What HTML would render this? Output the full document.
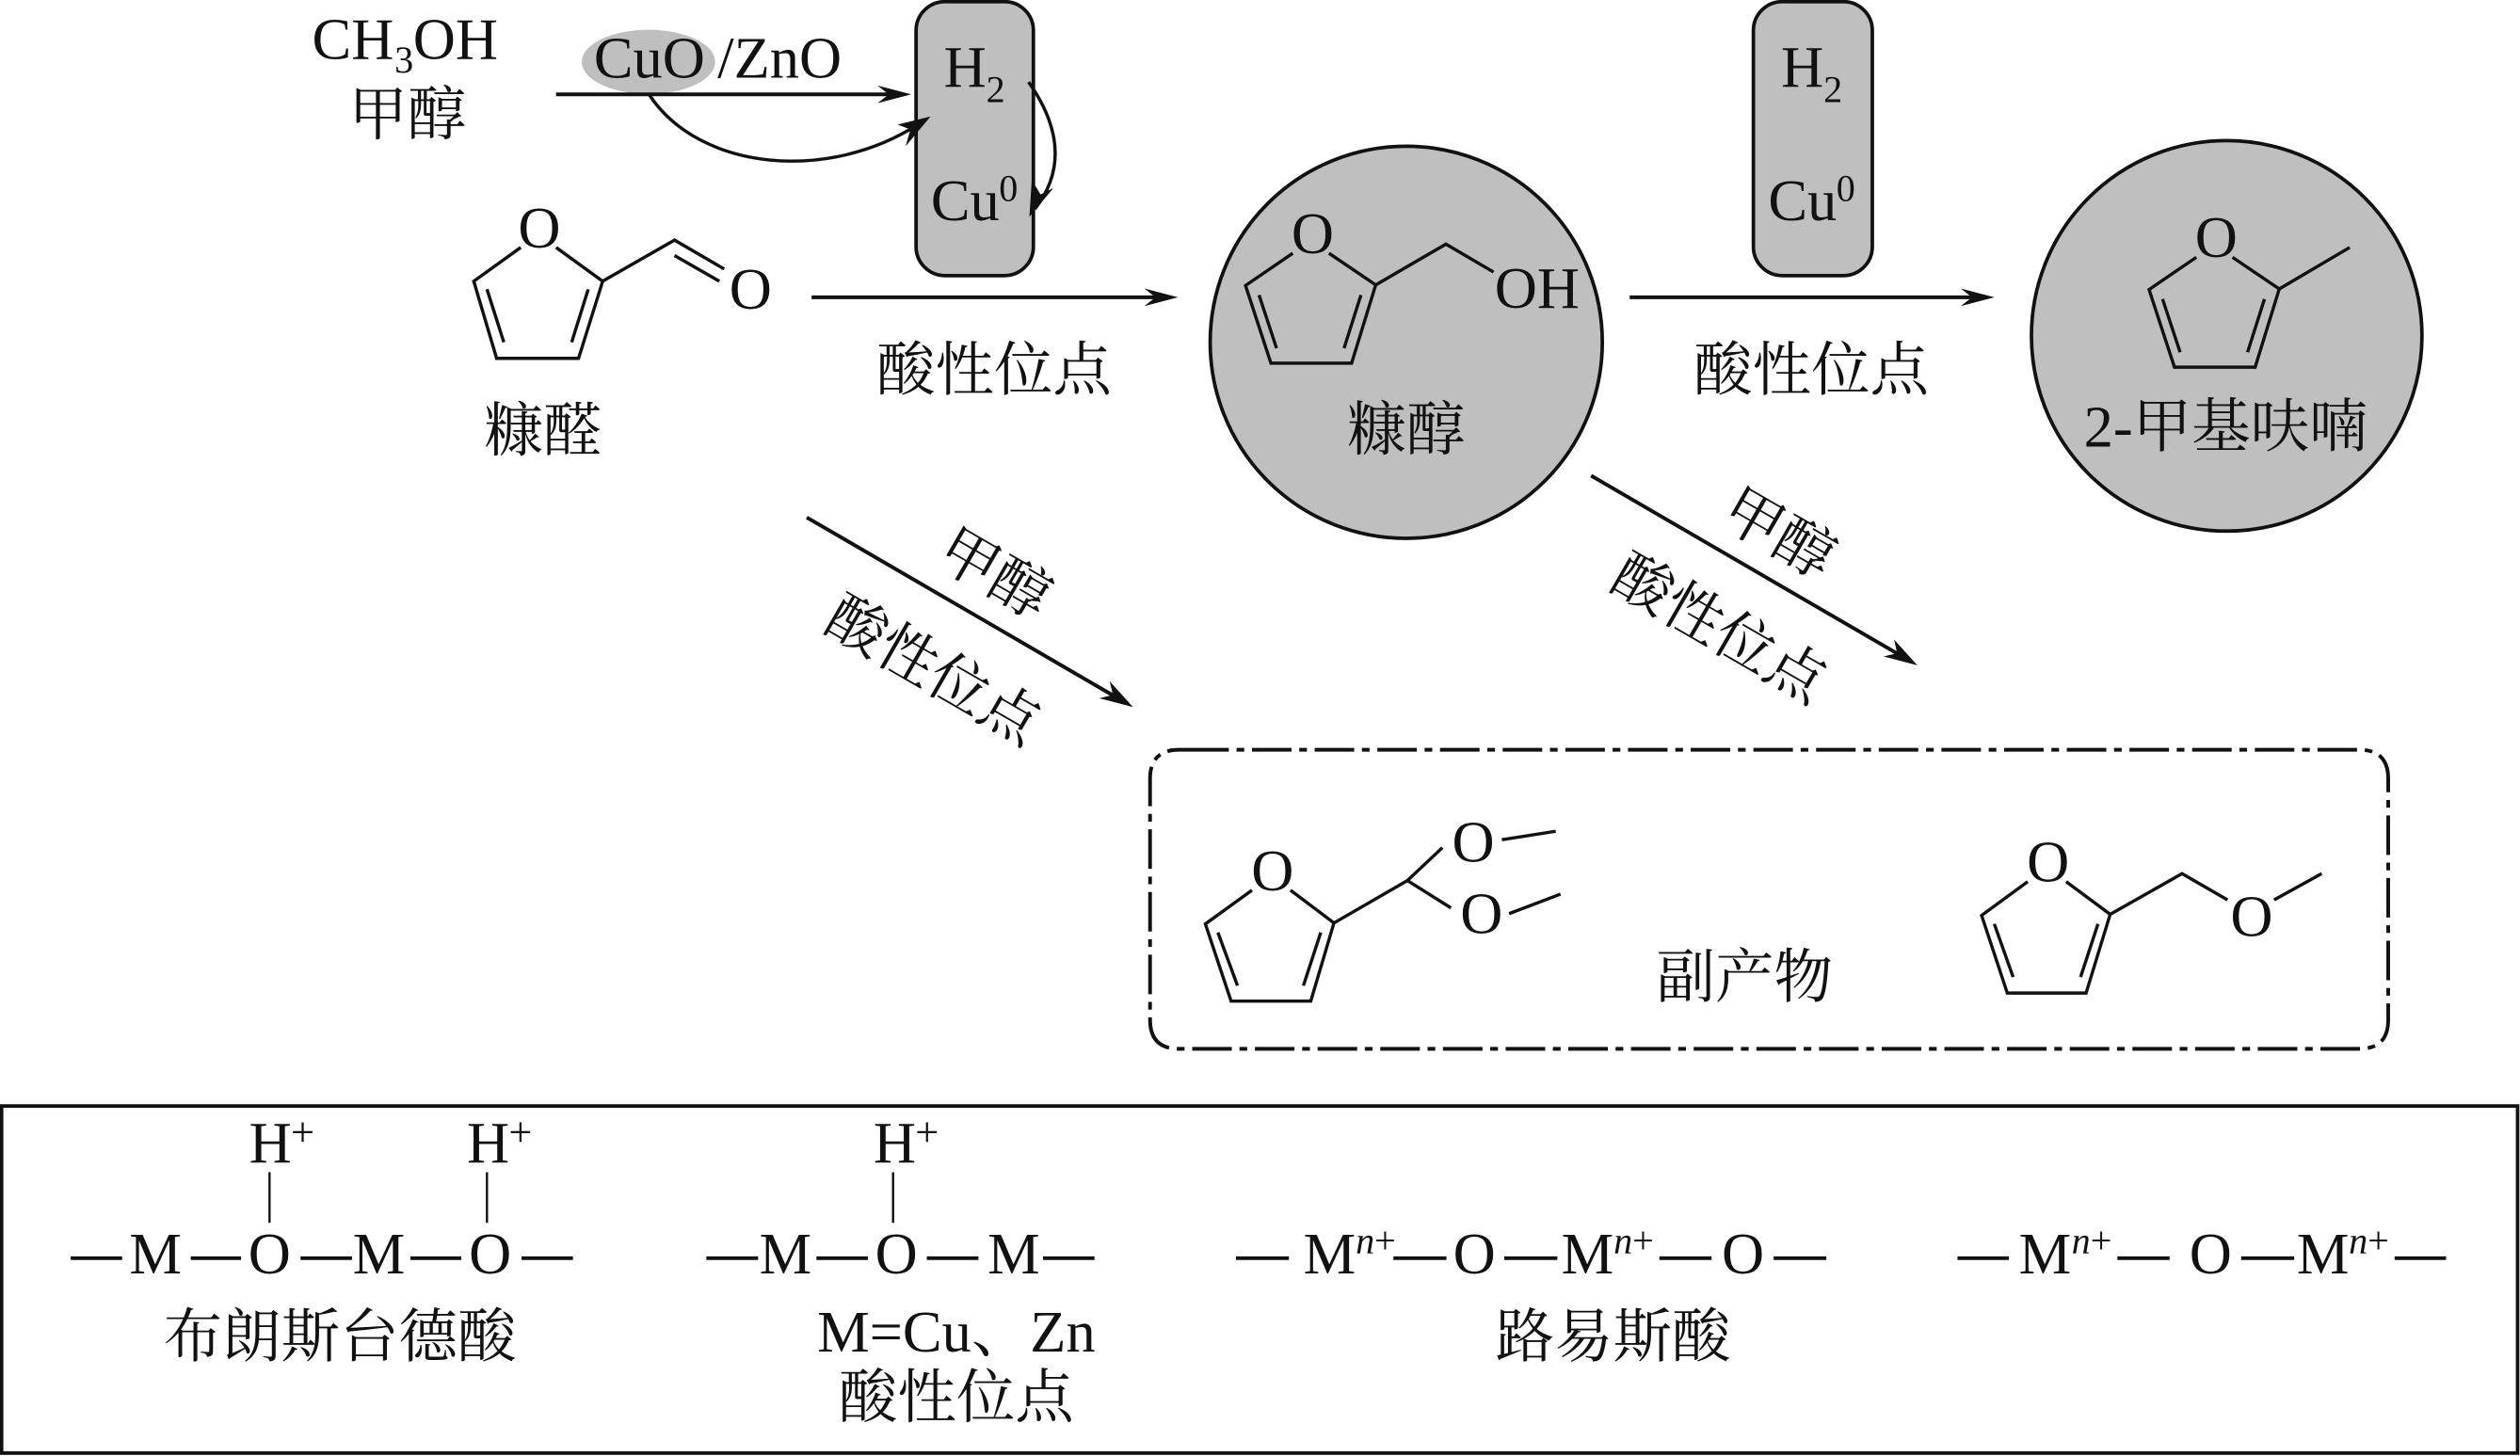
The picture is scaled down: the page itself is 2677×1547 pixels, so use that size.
<!DOCTYPE html>
<html lang="zh">
<head>
<meta charset="utf-8">
<title>Diagram</title>
<style>
html,body{margin:0;padding:0;background:#fff;}
svg{display:block;}
text{fill:#111;font-family:"Liberation Serif","Noto Serif CJK SC",serif;font-size:36.6px;}
.c{text-anchor:middle;}
.s{font-size:23.5px;}
.p{font-size:26px;}
.b{fill:none;stroke:#111;stroke-width:2;stroke-linejoin:miter;stroke-linecap:butt;}
.d{fill:none;stroke:#111;stroke-width:2.3;}
.t{fill:none;stroke:#111;stroke-width:1.4;}
.g{fill:#bfbfbf;stroke:#111;stroke-width:2.2;}
.a{fill:#111;stroke:none;}
</style>
</head>
<body>
<svg xmlns="http://www.w3.org/2000/svg" width="2677" height="1547" viewBox="0 0 1568 906.1">
<rect width="1568" height="906.1" fill="#fff"/>

<!-- grey shapes -->
<rect class="g" x="570" y="1" width="73" height="170.5" rx="18" ry="18"/>
<rect class="g" x="1091" y="1" width="74" height="170.5" rx="18" ry="18"/>
<circle class="g" cx="875" cy="213" r="122"/>
<circle class="g" cx="1385.5" cy="209" r="121.5"/>
<ellipse cx="403.5" cy="38.5" rx="41.5" ry="20" fill="#bfbfbf"/>

<!-- top labels -->
<text y="36.7"><tspan x="194.2">CH</tspan><tspan x="245.5" y="45" class="s">3</tspan><tspan x="257" y="36.7">OH</tspan></text>
<text class="c" x="253.5" y="83.7">甲醇</text>
<text x="369.5" y="48.4">CuO</text>
<text x="446.5" y="48.4">/ZnO</text>

<text y="54"><tspan x="587.3">H</tspan><tspan x="613.6" y="63.5" class="s">2</tspan></text>
<text y="137"><tspan x="579.2">Cu</tspan><tspan x="621.6" y="125" class="s">0</tspan></text>
<text y="54"><tspan x="1108.3">H</tspan><tspan x="1134.6" y="63.5" class="s">2</tspan></text>
<text y="137"><tspan x="1100.2">Cu</tspan><tspan x="1142.6" y="125" class="s">0</tspan></text>

<!-- arrows -->
<line class="d" x1="346" y1="58.7" x2="560" y2="58.7"/>
<polygon class="a" points="567,58.7 546,53.2 553,58.7 546,64.2"/>
<path class="b" d="M404 59 C435 106,515 114,572 77"/>
<polygon class="a" points="579,72.5 558.5,77.5 566.5,80.5 563.5,91"/>
<path class="b" stroke-width="1.8" d="M640 51 Q671 95 644 130"/>
<polygon class="a" points="640.5,135 655.5,117 647.5,121 642,112"/>

<line class="d" x1="505" y1="185" x2="726" y2="185"/>
<polygon class="a" points="733,185 712,179.5 719,185 712,190.5"/>
<line class="d" x1="1014" y1="185" x2="1234" y2="185"/>
<polygon class="a" points="1241,185 1220,179.5 1227,185 1220,190.5"/>

<line class="d" x1="502" y1="322" x2="699" y2="436.5"/>
<polygon class="a" points="705,440 690.5,424 692.5,432.5 684,434.5"/>
<line class="d" x1="990" y1="296" x2="1187" y2="410.5"/>
<polygon class="a" points="1193,414 1178.5,398 1180.5,406.5 1172,408.5"/>

<text class="c" x="618.5" y="242.7">酸性位点</text>
<text class="c" x="1127" y="242.7">酸性位点</text>

<!-- rotated labels -->
<text class="c" transform="rotate(30 619.5 356)" x="619.5" y="369.7">甲醇</text>
<text class="c" transform="rotate(30 581.5 416)" x="581.5" y="429.7">酸性位点</text>
<text class="c" transform="rotate(30 1107.5 331)" x="1107.5" y="344.7">甲醇</text>
<text class="c" transform="rotate(30 1070.5 390)" x="1070.5" y="403.7">酸性位点</text>

<!-- furfural -->
<path class="b" d="M324 154 L294.8 175 L309 223 L360 223 L375 175 L346 154"/>
<path class="b" d="M303 180 L313.5 213 M366 180 L355.7 213"/>
<path class="b" d="M375 175 L419.7 149.4 L450.6 167.4 M419.7 159 L447.6 175"/>
<text class="c" x="335.6" y="154">O</text>
<text class="c" x="467" y="192">O</text>
<text class="c" x="338" y="280.7">糠醛</text>

<!-- furfuryl alcohol -->
<path class="b" d="M804.4 157.6 L775 177.7 L790.8 226 L841 226 L856 177.3 L826.9 157.6"/>
<path class="b" d="M783.4 183.6 L794.3 216.7 M846.8 183.6 L836.3 216.7"/>
<path class="b" d="M856 177.3 L899.7 151.9 L929.3 169.3"/>
<text class="c" x="816.8" y="157.5">O</text>
<text x="930" y="191.4">OH</text>
<text class="c" x="875" y="280">糠醇</text>

<!-- 2-methylfuran -->
<path class="b" d="M1366.6 160.1 L1337.2 180.2 L1353 228.5 L1403.2 228.5 L1418.2 179.8 L1389.1 160.1"/>
<path class="b" d="M1345.6 186.1 L1356.5 219.2 M1409 186.1 L1398.5 219.2"/>
<path class="b" d="M1418.2 179.8 L1462 154"/>
<text class="c" x="1379" y="160">O</text>
<text class="c" x="1385" y="278">2-甲基呋喃</text>

<!-- dash-dot box -->
<path class="d" stroke-dasharray="24.6 4.8 4.8 4.8" d="M740 466.6 H1468 Q1486 466.6 1486 484.6 V634.7 Q1486 652.7 1468 652.7 H733.6 Q715.6 652.7 715.6 634.7 V484.6 Q715.6 466.6 733.6 466.6 H740"/>

<!-- acetal -->
<path class="b" d="M779 554 L750 575 L766 623 L815.6 623 L830 574.4 L803 554"/>
<path class="b" d="M757.8 580.3 L770 613.4 M821.8 580.3 L811 613.4"/>
<path class="b" d="M830 574.4 L875.7 548 L897.5 527.5 M875.7 548 L902.8 565"/>
<path class="b" d="M934.5 522.6 L968 517.3 M939 568.6 L971 556.4"/>
<text class="c" x="791.8" y="554">O</text>
<text class="c" x="916.7" y="536.2">O</text>
<text class="c" x="921.8" y="580.6">O</text>

<text class="c" x="1085.5" y="620.5">副产物</text>

<!-- ether -->
<path class="b" d="M1261.7 548.7 L1233 569.7 L1249 618 L1298 618 L1313 569 L1285.6 548.7"/>
<path class="b" d="M1240.9 575 L1252.6 608 M1305.4 575 L1294.6 608"/>
<path class="b" d="M1313 569 L1357.7 543.7 L1386 560 M1415 560 L1444.6 543.7"/>
<text class="c" x="1274.4" y="548.6">O</text>
<text class="c" x="1401" y="582.5">O</text>

<!-- bottom box -->
<rect x="1" y="688.3" width="1565.5" height="216" fill="none" stroke="#111" stroke-width="2.2"/>

<!-- group 1 -->
<text x="155" y="723.4">H</text><text class="p" x="181" y="713">+</text>
<text x="290.5" y="723.4">H</text><text class="p" x="316.5" y="713">+</text>
<line class="t" x1="167.7" y1="729.5" x2="167.7" y2="761"/>
<line class="t" x1="303" y1="729.5" x2="303" y2="761"/>
<path class="d" d="M44 783 H76 M118.7 783 H150 M187 783 H219 M255.4 783 H287 M324.5 783 H356.5"/>
<text x="80.5" y="792.6">M</text>
<text class="c" x="167.7" y="792.6">O</text>
<text x="219.5" y="792.6">M</text>
<text class="c" x="305" y="792.6">O</text>
<text class="c" x="211.5" y="844.2">布朗斯台德酸</text>

<!-- group 2 -->
<text x="543.5" y="723.4">H</text><text class="p" x="569.5" y="713">+</text>
<line class="t" x1="555.7" y1="729.5" x2="555.7" y2="761"/>
<path class="d" d="M439.5 783 H471.7 M508 783 H540 M576.7 783 H608.8 M649 783 H681"/>
<text x="472.5" y="792.6">M</text>
<text class="c" x="557.7" y="792.6">O</text>
<text x="614.5" y="792.6">M</text>
<text x="508.5" y="841">M=Cu、Zn</text>
<text class="c" x="595" y="882">酸性位点</text>

<!-- group 3 -->
<path class="d" d="M769 783 H802 M867 783 H900 M936 783 H969 M1032.5 783 H1065 M1103.6 783 H1136.4"/>
<text x="811" y="792.6">M</text>
<text x="843.5" y="780" class="s"><tspan font-style="italic">n</tspan><tspan>+</tspan></text>
<text class="c" x="917.4" y="792.6">O</text>
<text x="971.5" y="792.6">M</text>
<text x="1004" y="780" class="s"><tspan font-style="italic">n</tspan><tspan>+</tspan></text>
<text class="c" x="1084.5" y="792.6">O</text>
<text class="c" x="1003.7" y="844.2">路易斯酸</text>

<!-- group 4 -->
<path class="d" d="M1218 783 H1250 M1317.5 783 H1350 M1394.5 783 H1427.5 M1490 783 H1522"/>
<text x="1256.2" y="792.6">M</text>
<text x="1289" y="780" class="s"><tspan font-style="italic">n</tspan><tspan>+</tspan></text>
<text class="c" x="1375.5" y="792.6">O</text>
<text x="1429.1" y="792.6">M</text>
<text x="1461.5" y="780" class="s"><tspan font-style="italic">n</tspan><tspan>+</tspan></text>
</svg>
</body>
</html>
